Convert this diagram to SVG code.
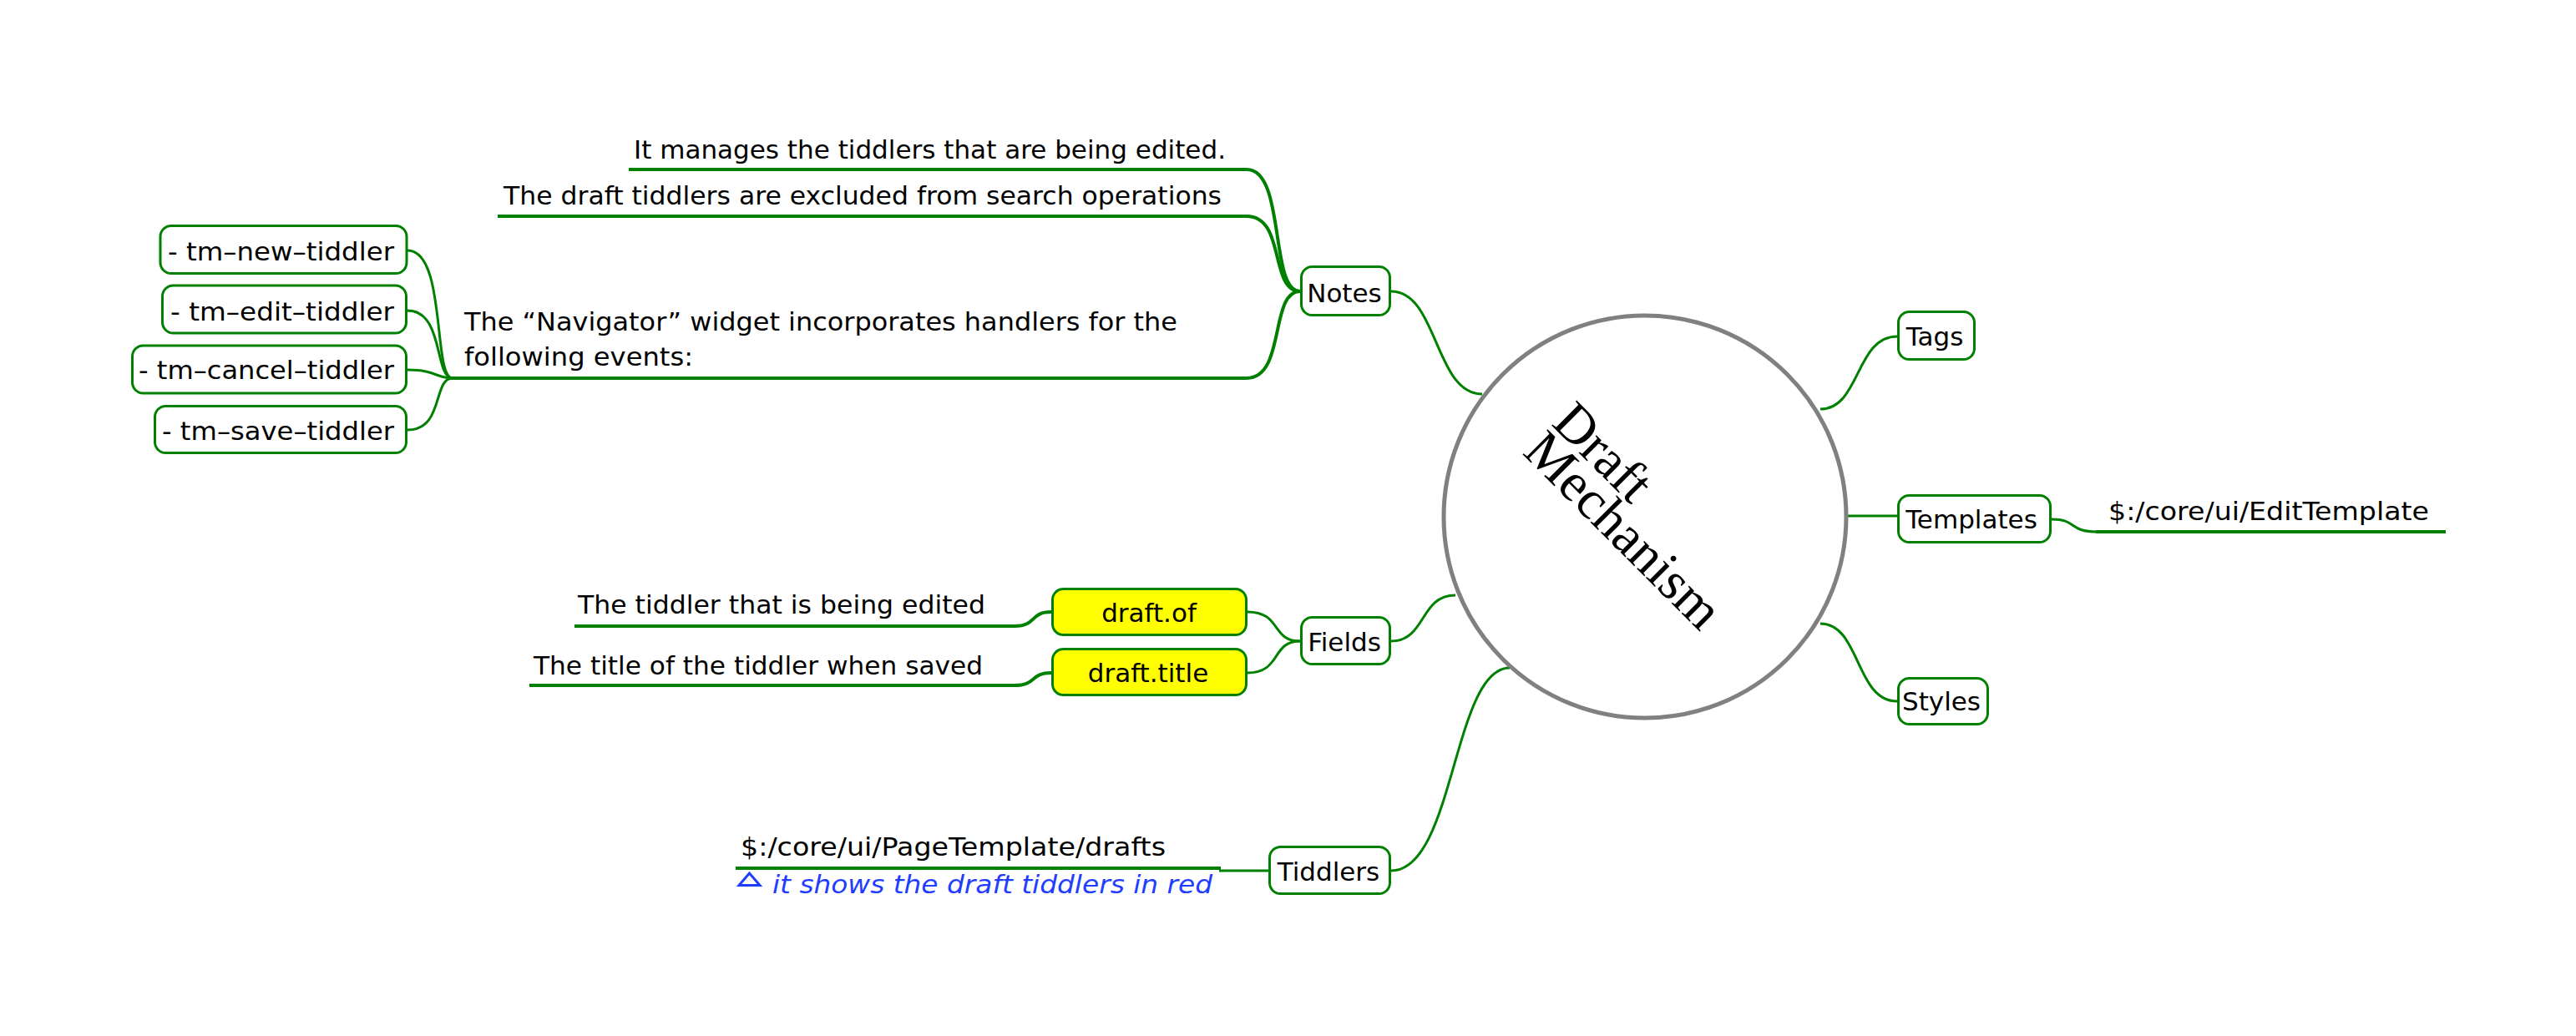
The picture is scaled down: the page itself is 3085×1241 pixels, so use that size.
<svg xmlns="http://www.w3.org/2000/svg" width="3085" height="1241" viewBox="0 0 3085 1241">
<style>
.bg{fill:#ffffff}
.n{fill:#ffffff;stroke:#008000;stroke-width:3}
.y{fill:#ffff00;stroke:#008000;stroke-width:3}
.t{font-family:"DejaVu Sans","Liberation Sans",sans-serif;font-size:31px;fill:#000000}
.c{text-anchor:middle}
.i{font-style:italic;fill:#1f3dff}
.e{fill:none;stroke:#008000;stroke-width:3}
.u{fill:none;stroke:#008000;stroke-width:4}
.r{font-family:"Liberation Serif","DejaVu Serif",serif;font-size:65px;fill:#000000}
</style>
<rect class="bg" x="0" y="0" width="3085" height="1241"/>

<g id="connectors">
  <path class="u" d="M753 203 H1493 C1540 203 1520 349 1557 349"/>
  <path class="u" d="M596 259 H1493 C1540 259 1520 349 1557 349"/>
  <path class="u" d="M540 453 H1493 C1540 453 1520 349 1557 349"/>
  <path class="e" d="M1666 349 C1722 349 1718 472 1775 472"/>
  <path class="e" d="M488 300 C535 300 518 453 542 453"/>
  <path class="e" d="M488 372 C532 372 520 453 542 453"/>
  <path class="e" d="M488 443 C522 443 522 453 542 453"/>
  <path class="e" d="M488 515 C532 515 518 453 542 453"/>
  <path class="u" d="M688 750 H1215 C1242 750 1233 733 1259 733"/>
  <path class="u" d="M634 821 H1215 C1242 821 1233 806 1259 806"/>
  <path class="e" d="M1494 733 C1535 733 1522 768 1557 768"/>
  <path class="e" d="M1494 806 C1535 806 1522 768 1557 768"/>
  <path class="e" d="M1666 768 C1708 768 1700 713 1743 713"/>
  <path class="u" d="M881 1040 H1462"/>
  <path class="e" d="M1460 1043 H1519"/>
  <path class="e" d="M1666 1043 C1742 1043 1740 800 1808 800"/>
  <path class="e" d="M2180 490 C2228 490 2222 403 2272 403"/>
  <path class="e" d="M2212 618 H2272"/>
  <path class="e" d="M2180 747 C2228 747 2222 840 2272 840"/>
  <path class="e" d="M2457 622 C2488 622 2476 637 2512 637"/>
  <path class="u" d="M2510 637 H2929"/>
</g>

<g id="root">
  <ellipse cx="1970" cy="619" rx="241" ry="241" fill="#ffffff" stroke="#808080" stroke-width="5"/>
  <g transform="translate(1822,543) rotate(45)">
    <text class="r" x="0" y="-49">Draft</text>
    <text class="r" x="0" y="0">Mechanism</text>
  </g>
</g>

<g id="note1"><text class="t" x="759" y="190" textLength="709" lengthAdjust="spacingAndGlyphs">It manages the tiddlers that are being edited.</text></g>
<g id="note2"><text class="t" x="603" y="245" textLength="860" lengthAdjust="spacingAndGlyphs">The draft tiddlers are excluded from search operations</text></g>
<g id="note3">
  <text class="t" x="556" y="396" textLength="854" lengthAdjust="spacingAndGlyphs">The “Navigator” widget incorporates handlers for the</text>
  <text class="t" x="556" y="438" textLength="274" lengthAdjust="spacingAndGlyphs">following events:</text>
</g>

<g id="ev-new"><rect class="n" x="192" y="270.5" width="295" height="57" rx="13"/><text class="t" x="201" y="312" textLength="271" lengthAdjust="spacingAndGlyphs">- tm–new–tiddler</text></g>
<g id="ev-edit"><rect class="n" x="194.5" y="342" width="292" height="57" rx="13"/><text class="t" x="204" y="384" textLength="268" lengthAdjust="spacingAndGlyphs">- tm–edit–tiddler</text></g>
<g id="ev-cancel"><rect class="n" x="158.5" y="414" width="328" height="57" rx="13"/><text class="t" x="166" y="454" textLength="306" lengthAdjust="spacingAndGlyphs">- tm–cancel–tiddler</text></g>
<g id="ev-save"><rect class="n" x="185.5" y="486.5" width="301" height="56" rx="13"/><text class="t" x="194" y="527" textLength="278" lengthAdjust="spacingAndGlyphs">- tm–save–tiddler</text></g>

<g id="notes"><rect class="n" x="1558.5" y="319.5" width="106" height="58" rx="13"/><text class="t c" x="1610" y="362">Notes</text></g>
<g id="fields"><rect class="n" x="1558.5" y="739.5" width="106" height="56" rx="13"/><text class="t c" x="1610" y="780">Fields</text></g>
<g id="tiddlers"><rect class="n" x="1520.5" y="1014.5" width="144" height="56" rx="13"/><text class="t c" x="1591" y="1055">Tiddlers</text></g>

<g id="draft-of"><rect class="y" x="1260.5" y="705.5" width="232" height="55" rx="13"/><text class="t c" x="1376" y="745">draft.of</text></g>
<g id="draft-title"><rect class="y" x="1260.5" y="777.5" width="232" height="55" rx="13"/><text class="t c" x="1375" y="817">draft.title</text></g>
<g id="field1"><text class="t" x="692" y="735" textLength="488" lengthAdjust="spacingAndGlyphs">The tiddler that is being edited</text></g>
<g id="field2"><text class="t" x="639" y="808" textLength="538" lengthAdjust="spacingAndGlyphs">The title of the tiddler when saved</text></g>

<g id="pagetemplate">
  <text class="t" x="887" y="1025" textLength="509" lengthAdjust="spacingAndGlyphs">$:/core/ui/PageTemplate/drafts</text>
  <polygon points="897.5,1046 885,1060.5 910,1060.5" fill="none" stroke="#1f3dff" stroke-width="3" stroke-linejoin="miter"/>
  <text class="t i" x="925" y="1070" textLength="527" lengthAdjust="spacingAndGlyphs">it shows the draft tiddlers in red</text>
</g>

<g id="tags"><rect class="n" x="2273.5" y="373.5" width="91" height="57" rx="13"/><text class="t c" x="2317" y="414">Tags</text></g>
<g id="templates"><rect class="n" x="2273.5" y="593.5" width="182" height="56" rx="13"/><text class="t c" x="2361" y="633">Templates</text></g>
<g id="styles"><rect class="n" x="2273.5" y="812.5" width="107" height="55" rx="13"/><text class="t c" x="2325" y="851">Styles</text></g>
<g id="edittemplate"><text class="t" x="2525" y="623" textLength="384" lengthAdjust="spacingAndGlyphs">$:/core/ui/EditTemplate</text></g>
</svg>
